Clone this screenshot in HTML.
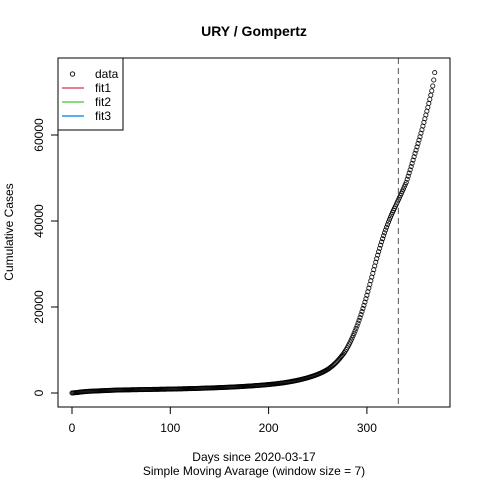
<!DOCTYPE html>
<html><head><meta charset="utf-8"><style>
html,body{margin:0;padding:0;background:#fff;}
svg text{font-family:"Liberation Sans",Arial,sans-serif;}
</style></head><body>
<svg id="chart" width="480" height="480" viewBox="0 0 480 480" xmlns="http://www.w3.org/2000/svg">
<rect width="480" height="480" fill="#fff"/>
<text x="254" y="36" text-anchor="middle" font-size="14" font-weight="bold">URY / Gompertz</text>
<g id="plot"></g>
<rect x="58" y="58" width="392" height="349" fill="none" stroke="#000" stroke-width="1"/>
<text x="254" y="461" text-anchor="middle" font-size="12">Days since 2020-03-17</text>
<text x="254" y="475" text-anchor="middle" font-size="12">Simple Moving Avarage (window size = 7)</text>
<text x="13" y="232" text-anchor="middle" font-size="12" transform="rotate(-90 13 232)">Cumulative Cases</text>
<g>
<rect x="58" y="58" width="65" height="72" fill="#fff" stroke="#000"/>
<circle cx="72.5" cy="74" r="2.2" fill="none" stroke="#000" stroke-width="0.9"/>
<text x="95" y="78" font-size="12">data</text>
<line x1="62" y1="88" x2="84" y2="88" stroke="#DF536B" stroke-width="1.5"/>
<text x="95" y="92" font-size="12">fit1</text>
<line x1="62" y1="102" x2="84" y2="102" stroke="#61D04F" stroke-width="1.5"/>
<text x="95" y="106" font-size="12">fit2</text>
<line x1="62" y1="116" x2="84" y2="116" stroke="#2297E6" stroke-width="1.5"/>
<text x="95" y="120" font-size="12">fit3</text>
</g>
</svg>
<script>
const xTicks = [0, 100, 200, 300];
const yTicks = [0, 20000, 40000, 60000];
const cutoffDay = 332;
const cases = [
0,20,40,60,80,100,130,160,190,220,
250,270,290,310,330,350,370,385,400,410,
420,430,440,450,460,470,480,490,500,510,
520,530,540,550,560,570,580,590,600,610,
620,630,640,650,660,670,680,690,695,700,
704,708,712,716,720,724,728,732,736,740,
744,748,752,756,760,764,768,772,776,780,
784,788,792,796,800,804,808,812,816,820,
824,828,832,836,840,844,848,852,856,860,
864,868,872,876,880,884,888,892,896,900,
905,910,915,920,925,930,935,940,945,950,
956,962,968,974,980,986,992,998,1004,1010,
1016,1022,1028,1034,1040,1046,1052,1060,1068,1076,
1084,1092,1100,1108,1116,1124,1132,1140,1148,1156,
1164,1172,1180,1188,1196,1204,1212,1220,1228,1236,
1246,1256,1266,1276,1286,1296,1306,1316,1326,1336,
1346,1358,1370,1382,1394,1406,1418,1430,1442,1454,
1466,1480,1494,1508,1522,1536,1550,1564,1578,1592,
1606,1622,1638,1654,1670,1686,1702,1718,1734,1750,
1768,1786,1804,1822,1840,1860,1880,1900,1920,1940,
1962,1984,2006,2030,2054,2078,2102,2128,2154,2180,
2208,2236,2266,2296,2328,2360,2394,2428,2464,2500,
2540,2580,2620,2662,2704,2748,2792,2838,2884,2932,
2980,3030,3082,3136,3190,3246,3304,3364,3426,3490,
3556,3624,3694,3766,3840,3916,3996,4078,4162,4250,
4340,4434,4530,4630,4734,4842,4956,5076,5202,5334,
5474,5622,5780,5950,6130,6320,6520,6730,6950,7180,
7420,7670,7930,8200,8480,8770,9070,9400,9750,10120,
10520,10940,11380,11840,12320,12820,13340,13880,14440,15020,
15620,16240,16880,17540,18220,18920,19640,20380,21140,21920,
22720,23540,24380,25240,26100,26960,27820,28680,29540,30400,
31240,32060,32860,33640,34400,35140,35860,36560,37240,37900,
38540,39160,39760,40340,40900,41440,41960,42460,42950,43440,
43930,44420,44910,45400,45900,46400,46910,47420,47940,48460,
48990,49700,50420,51150,51890,52640,53400,54170,54950,55740,
56460,57230,58010,58800,59600,60410,61230,62070,62920,63780,
64650,65530,66430,67350,68290,69260,70260,71400,72800,74500
];
const NS = "http://www.w3.org/2000/svg";
const svg = document.getElementById('chart');
const plot = document.getElementById('plot');
function xs(d){ return 72 + d * 0.983; }
function ys(v){ return 393 - v * 86 / 20000; }
function mk(tag, attrs){ const e = document.createElementNS(NS, tag); for (const k in attrs) e.setAttribute(k, attrs[k]); return e; }
const xAxis = mk('g', {});


svg.appendChild(xAxis);
xAxis.appendChild(mk('line', {x1: xs(xTicks[0]), y1: 407, x2: xs(xTicks[xTicks.length-1]), y2: 407, stroke: '#000'}));
xTicks.forEach(t => {
  const l = mk('line', {x1: xs(t), y1: 407, x2: xs(t), y2: 414, stroke: '#000'});
  
  
  xAxis.appendChild(l);
  const tx = mk('text', {x: xs(t), y: 432, 'text-anchor': 'middle', 'font-size': 12});
  
  
  tx.textContent = t;
  xAxis.appendChild(tx);
});
const yAxis = mk('g', {});


svg.appendChild(yAxis);
yAxis.appendChild(mk('line', {x1: 58, y1: ys(yTicks[0]), x2: 58, y2: ys(yTicks[yTicks.length-1]), stroke: '#000'}));
yTicks.forEach(t => {
  const l = mk('line', {x1: 51, y1: ys(t), x2: 58, y2: ys(t), stroke: '#000'});
  
  
  yAxis.appendChild(l);
  const tx = mk('text', {x: 43, y: ys(t), 'text-anchor': 'middle', 'font-size': 12, transform: 'rotate(-90 43 ' + ys(t) + ')'});
  
  
  tx.textContent = t;
  yAxis.appendChild(tx);
});
cases.forEach((v, i) => {
  const c = mk('circle', {cx: xs(i), cy: ys(v), r: 2.1, fill: 'none', stroke: '#000', 'stroke-width': 0.8});
  
  
  plot.appendChild(c);
});
const cl = mk('line', {x1: xs(cutoffDay), y1: 58, x2: xs(cutoffDay), y2: 407, stroke: '#555', 'stroke-dasharray': '6,4', 'stroke-width': 1});


plot.appendChild(cl);
</script>
</body></html>
